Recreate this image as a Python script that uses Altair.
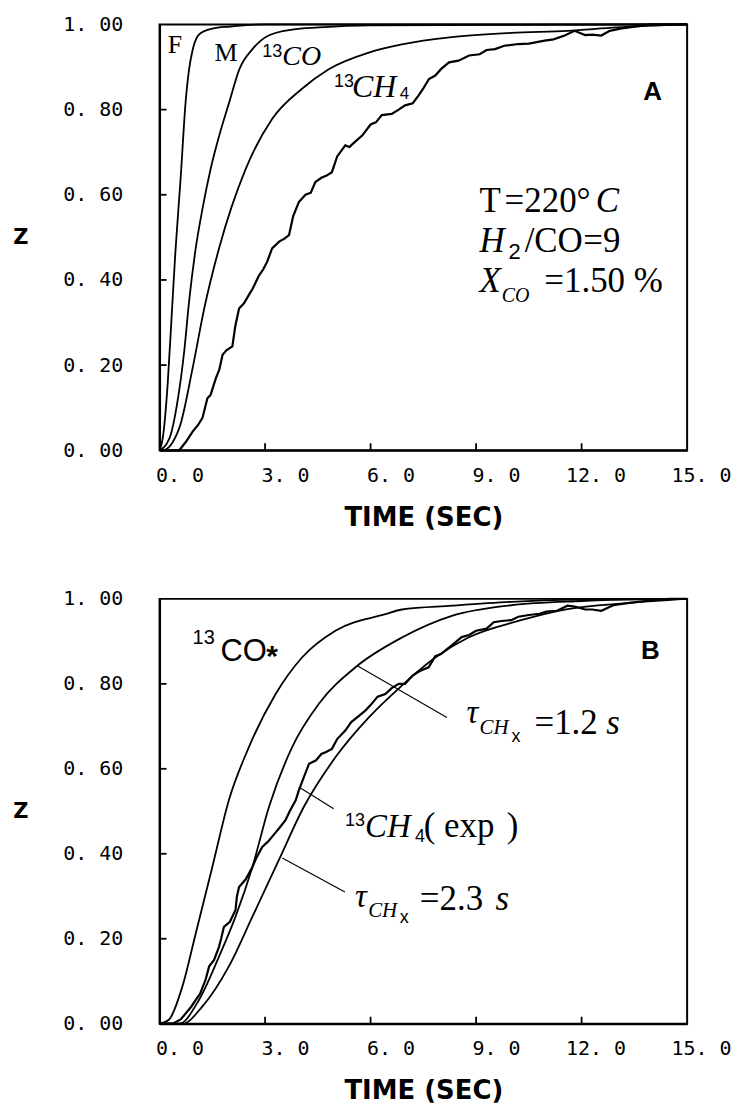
import altair as alt
import pandas as pd

# ---------------- Panel A data (time in s, Z) ----------------
A_F_t = [0, 0.09, 0.23, 0.34, 0.45, 0.60, 0.74, 0.84, 0.94, 1.13, 1.50, 2.00, 3.00, 15.0]
A_F_z = [0, 0.028, 0.155, 0.31, 0.466, 0.64, 0.817, 0.895, 0.94, 0.977, 0.99, 0.995, 1.0, 1.0]

A_M_t = [0, 0.28, 0.51, 0.70, 0.84, 1.02, 1.22, 1.45, 1.70, 1.98, 2.27, 2.64, 3.10, 3.77, 4.53, 6.0, 15.0]
A_M_z = [0, 0.028, 0.115, 0.232, 0.35, 0.47, 0.567, 0.66, 0.74, 0.817, 0.895, 0.942, 0.974, 0.988, 0.993, 0.998, 1.0]

A_CO_t = [0, 0.09, 0.56, 0.94, 1.27, 1.69, 2.45, 3.20, 4.05, 4.81, 5.95, 6.89, 8.31, 10.0, 11.6, 13.0, 15.0]
A_CO_z = [0, 0.0, 0.052, 0.193, 0.333, 0.474, 0.661, 0.778, 0.849, 0.895, 0.934, 0.953, 0.970, 0.980, 0.985, 0.993, 1.0]

A_CH4_t = [0, 0.30, 0.56, 0.75, 0.94, 1.10, 1.22, 1.36, 1.45, 1.60, 1.70, 1.79, 1.90, 2.07, 2.15,
           2.26, 2.40, 2.54, 2.65, 2.83, 2.95, 3.06, 3.20, 3.40, 3.55, 3.68, 3.80, 3.96, 4.15, 4.30,
           4.43, 4.60, 4.75, 4.90, 5.05, 5.28, 5.40, 5.50, 5.76, 6.00, 6.15, 6.32, 6.60, 6.80, 6.98,
           7.20, 7.36, 7.50, 7.66, 7.84, 8.00, 8.23, 8.50, 8.80, 9.10, 9.30, 9.54, 9.80, 10.2, 10.5,
           10.95, 11.2, 11.52, 11.8, 12.1, 12.3, 12.56, 12.8, 13.1, 13.5, 14.0, 15.0]
A_CH4_z = [0, 0.0, 0.0, 0.02, 0.044, 0.06, 0.076, 0.122, 0.13, 0.169, 0.19, 0.224, 0.235, 0.244, 0.29,
           0.333, 0.345, 0.365, 0.38, 0.411, 0.425, 0.443, 0.474, 0.49, 0.497, 0.505, 0.55, 0.583, 0.60, 0.605,
           0.63, 0.64, 0.645, 0.653, 0.69, 0.716, 0.712, 0.72, 0.739, 0.765, 0.77, 0.787, 0.79, 0.80, 0.81,
           0.815, 0.833, 0.85, 0.872, 0.88, 0.895, 0.911, 0.915, 0.927, 0.93, 0.94, 0.942, 0.95, 0.954, 0.955,
           0.962, 0.965, 0.974, 0.985, 0.975, 0.976, 0.974, 0.985, 0.99, 0.995, 1.0, 1.0]

# ---------------- Panel B data ----------------
B_CO_t = [0, 0.27, 0.65, 1.03, 1.50, 1.97, 2.54, 3.30, 4.05, 5.00, 6.42, 6.89, 8.31, 10.0, 12.0, 15.0]
B_CO_z = [0, 0.01, 0.088, 0.213, 0.369, 0.526, 0.651, 0.776, 0.862, 0.925, 0.964, 0.975, 0.984, 0.993, 0.998, 1.0]

B_T12_t = [0, 0.56, 1.12, 1.69, 2.16, 2.64, 3.11, 3.77, 4.53, 5.57, 6.89, 8.31, 10.0, 12.0, 13.5, 15.0]
B_T12_z = [0, 0.0, 0.056, 0.158, 0.252, 0.369, 0.51, 0.651, 0.753, 0.839, 0.909, 0.96, 0.985, 0.995, 0.999, 1.0]

B_T23_t = [0, 0.65, 1.22, 1.97, 2.64, 3.39, 4.10, 5.00, 5.95, 6.89, 7.84, 8.78, 10.2, 11.6, 13.3, 15.0]
B_T23_z = [0, 0.0, 0.041, 0.135, 0.252, 0.385, 0.51, 0.627, 0.721, 0.796, 0.862, 0.909, 0.948, 0.976, 0.99, 1.0]

B_CH4_t = [0, 0.37, 0.60, 0.75, 0.90, 1.03, 1.15, 1.31, 1.41, 1.55, 1.69, 1.75, 1.83, 2.00, 2.16,
           2.20, 2.26, 2.45, 2.64, 2.75, 2.92, 3.10, 3.25, 3.40, 3.58, 3.70, 3.87, 3.96, 4.10, 4.25,
           4.45, 4.60, 4.72, 4.90, 5.05, 5.28, 5.45, 5.60, 5.85, 6.00, 6.20, 6.42, 6.60, 6.80, 6.98,
           7.20, 7.40, 7.65, 7.84, 8.00, 8.12, 8.30, 8.59, 8.80, 9.00, 9.30, 9.50, 9.72, 10.0, 10.2,
           10.5, 10.8, 11.0, 11.3, 11.6, 11.8, 12.1, 12.3, 12.56, 12.9, 13.3, 13.8, 14.5, 15.0]
B_CH4_z = [0, 0.0, 0.01, 0.025, 0.04, 0.056, 0.07, 0.104, 0.135, 0.15, 0.181, 0.20, 0.228, 0.24, 0.268,
           0.30, 0.322, 0.34, 0.369, 0.39, 0.416, 0.43, 0.445, 0.46, 0.479, 0.50, 0.526, 0.549, 0.58, 0.612,
           0.62, 0.635, 0.639, 0.647, 0.67, 0.69, 0.71, 0.72, 0.737, 0.75, 0.77, 0.776, 0.79, 0.80, 0.80,
           0.82, 0.83, 0.839, 0.865, 0.87, 0.878, 0.89, 0.91, 0.915, 0.925, 0.93, 0.945, 0.948, 0.95, 0.958,
           0.962, 0.965, 0.97, 0.972, 0.984, 0.982, 0.975, 0.975, 0.972, 0.985, 0.99, 0.995, 1.0, 1.0]

X_TICKS = [0, 3, 6, 9, 12, 15]
Y_TICKS = [0, 0.2, 0.4, 0.6, 0.8, 1.0]
X_TITLE = "TIME (SEC)"
Y_TITLE = "Z"

# annotations (t, z, text, fontsize) anchored in data units
A_SERIF = [(0.23, 0.934, "F", 26), (1.56, 0.913, "M", 26), (9.10, 0.560, "T", 35),
           (9.81, 0.560, "=220°", 35), (10.38, 0.466, "/CO", 35), (12.05, 0.466, "=9", 35),
           (10.94, 0.372, "=1.50 %", 35)]
A_ITALIC = [(3.49, 0.904, "CO", 28), (5.47, 0.829, "CH", 32), (12.40, 0.560, "C", 35),
            (9.10, 0.466, "H", 35), (9.10, 0.372, "X", 35), (9.73, 0.349, "CO", 20)]
A_SANS = [(2.92, 0.923, "13", 18), (4.96, 0.852, "13", 18), (6.83, 0.824, "4", 17), (9.92, 0.450, "2", 22)]
A_BOLD = [(13.75, 0.822, "A", 26)]
A_LEAD = []

B_SERIF = [(10.66, 0.683, "=1.2", 35), (7.51, 0.439, "( exp", 35), (9.87, 0.439, ")", 35),
           (7.40, 0.268, "=2.3", 35)]
B_ITALIC = [(8.73, 0.707, "τ", 33), (9.10, 0.683, "CH", 21), (12.70, 0.683, "s", 35),
            (5.84, 0.439, "CH", 33), (5.56, 0.275, "τ", 33), (5.93, 0.251, "CH", 21), (9.55, 0.268, "s", 35)]
B_SANS = [(0.94, 0.894, "13", 20), (1.73, 0.854, "CO", 31), (10.01, 0.662, "x", 18),
          (5.27, 0.465, "13", 18), (7.26, 0.427, "4", 18), (6.83, 0.237, "x", 18)]
B_BOLD = [(13.69, 0.859, "B", 26), (3.03, 0.843, "*", 30)]
B_LEAD = [(5.61, 0.843, 8.17, 0.721), (3.96, 0.557, 4.95, 0.506), (3.49, 0.39, 5.27, 0.31)]

W = 529
XS = alt.Scale(domain=[0, 15], nice=False, zero=False)
YS = alt.Scale(domain=[0, 1], nice=False, zero=False)
TICKFONT = "DejaVu Sans Mono"

x_axis = alt.Axis(values=X_TICKS, labelExpr="replace(format(datum.value, '.1f'), '.', '. ')",
                  ticks=False, grid=False, domainColor="black", domainWidth=2,
                  labelFont=TICKFONT, labelFontSize=20, labelColor="black", labelAlign="right",
                  labelOffset=44, labelPadding=15, labelFlush=False, labelOverlap=False, labelBound=False,
                  title=X_TITLE, titleFont="DejaVu Sans", titleFontWeight="bold", titleFontSize=26,
                  titleColor="black", titlePadding=19)


def y_axis(h):
    return alt.Axis(values=Y_TICKS, labelExpr="replace(format(datum.value, '.2f'), '.', '. ')",
                    ticks=False, grid=False, domainColor="black", domainWidth=2,
                    labelFont=TICKFONT, labelFontSize=20, labelColor="black", labelPadding=37,
                    labelOverlap=False, labelBound=False,
                    title=Y_TITLE, titleFont="DejaVu Sans", titleFontWeight="bold", titleFontSize=21,
                    titleColor="black", titleAngle=0, titleAlign="right", titleBaseline="middle",
                    titleX=-132, titleY=h / 2)


def curves(series):
    rows = []
    for name, ts, zs in series:
        for t, z in zip(ts, zs):
            rows.append({"t": t, "z": z, "s": name})
    return pd.DataFrame(rows)


def panel(h, smooth, noisy, serif, italic, sans, bold, leads):
    X = alt.X("t:Q", scale=XS, axis=x_axis)
    Y = alt.Y("z:Q", scale=YS, axis=y_axis(h))
    layers = []
    layers.append(alt.Chart(curves(smooth)).mark_line(color="black", strokeWidth=1.8,
                                                       interpolate="monotone")
                  .encode(x=X, y=Y, detail="s:N"))
    layers.append(alt.Chart(curves(noisy)).mark_line(color="black", strokeWidth=2.2,
                                                      interpolate="linear")
                  .encode(x=X, y=Y, detail="s:N"))
    # inward tick marks
    layers.append(alt.Chart(pd.DataFrame({"t": X_TICKS[1:-1]})).mark_rule(color="black", strokeWidth=1.8)
                  .encode(x=X, y=alt.value(h), y2=alt.value(h - 7)))
    layers.append(alt.Chart(pd.DataFrame({"z": Y_TICKS[1:-1]})).mark_rule(color="black", strokeWidth=1.8)
                  .encode(y=Y, x=alt.value(0), x2=alt.value(7)))
    if leads:
        ld = pd.DataFrame(leads, columns=["t", "z", "t2", "z2"])
        layers.append(alt.Chart(ld).mark_rule(color="black", strokeWidth=1.1)
                      .encode(x=X, y=Y, x2="t2:Q", y2="z2:Q"))
    for rows, font, style, weight in [(serif, "Liberation Serif", "normal", "normal"),
                                      (italic, "Liberation Serif", "italic", "normal"),
                                      (sans, "Liberation Sans", "normal", "normal"),
                                      (bold, "Liberation Sans", "normal", "bold")]:
        if not rows:
            continue
        df = pd.DataFrame(rows, columns=["t", "z", "label", "fs"])
        layers.append(alt.Chart(df).mark_text(font=font, fontStyle=style, fontWeight=weight,
                                              align="left", baseline="alphabetic", color="black")
                      .encode(x=X, y=Y, text="label:N",
                              size=alt.Size("fs:Q", scale=None, legend=None)))
    return alt.layer(*layers).properties(width=W, height=h)


panel_a = panel(427,
                [("F", A_F_t, A_F_z), ("M", A_M_t, A_M_z), ("13CO", A_CO_t, A_CO_z)],
                [("13CH4", A_CH4_t, A_CH4_z)],
                A_SERIF, A_ITALIC, A_SANS, A_BOLD, A_LEAD)
panel_b = panel(426,
                [("13CO*", B_CO_t, B_CO_z), ("tau=1.2", B_T12_t, B_T12_z), ("tau=2.3", B_T23_t, B_T23_z)],
                [("13CH4 exp", B_CH4_t, B_CH4_z)],
                B_SERIF, B_ITALIC, B_SANS, B_BOLD, B_LEAD)

chart = (alt.vconcat(panel_a, panel_b, spacing=149, bounds="flush")
         .properties(padding={"left": 11, "top": 12, "right": 0, "bottom": 0}, background="white")
         .configure_view(stroke="black", strokeWidth=2))

chart.save("out.html", embed_options={"renderer": "svg", "actions": False})
